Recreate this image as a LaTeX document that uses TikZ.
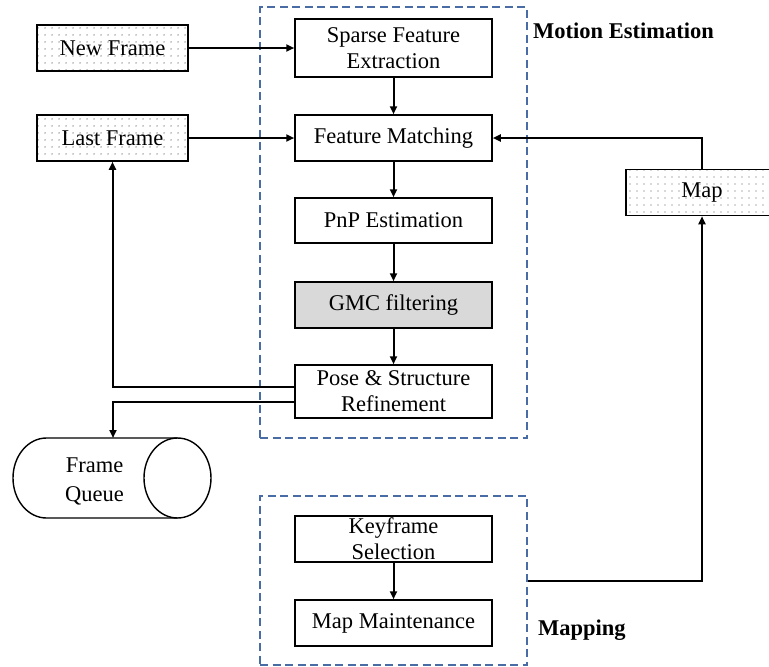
\documentclass[tikz,border=0pt]{standalone}
\usepackage{fontspec}
\setmainfont{Liberation Serif}
\usetikzlibrary{arrows.meta,patterns.meta}
\definecolor{dashblue}{RGB}{74,108,165}
\definecolor{gmcgray}{RGB}{217,217,217}
\tikzset{
  procbox/.style={draw=black, line width=1.5pt, minimum width=197pt, inner sep=0pt, align=center, font=\fontsize{22.5}{26}\selectfont},
  inbox/.style={draw=black, line width=1.5pt, minimum width=151pt, minimum height=46pt, inner sep=0pt, align=center,
     pattern={Dots[distance=6.5pt,radius=0.7pt]}, pattern color=black!65, font=\fontsize{22.5}{26}\selectfont},
  groupbox/.style={draw=dashblue, line width=1.2pt, dash pattern=on 8pt off 4.5pt, inner sep=0pt},
  arr/.style={line width=2pt, -{Triangle[length=8pt,width=7pt]}},
  grouplabel/.style={font=\fontsize{22.5}{26}\selectfont\bfseries, anchor=west, inner sep=0pt}
}
\begin{document}
\begin{tikzpicture}[x=1pt,y=-1pt]
\useasboundingbox (0,0) rectangle (769,667);
\clip (0,0) rectangle (769,667);
% group boxes
\node[groupbox, minimum width=267pt, minimum height=431pt] (motion) at (393.5,222.5) {};
\node[groupbox, minimum width=267pt, minimum height=169pt] (mapping) at (393.5,580.5) {};
\node[grouplabel] (motionlbl) at (533,31) {Motion Estimation};
\node[grouplabel] (mappinglbl) at (538,630) {Mapping};
% input boxes
\node[inbox] (newframe) at (112.5,48) {New Frame};
\node[inbox] (lastframe) at (112.5,138) {Last Frame};
\node[inbox, minimum width=152pt] (map) at (702,192.5) {Map};
% processing boxes
\node[procbox, minimum height=58pt] (sfe) at (393.5,48) {Sparse Feature\\Extraction};
\node[procbox, minimum height=46pt] (fm) at (393.5,138) {Feature Matching};
\node[procbox, minimum height=45pt] (pnp) at (393.5,220.5) {PnP Estimation};
\node[procbox, minimum height=46pt, fill=gmcgray] (gmc) at (393.5,305) {GMC filtering};
\node[procbox, minimum height=53pt] (pose) at (393.5,391.5) {Pose \& Structure\\Refinement};
\node[procbox, minimum height=46pt] (ks) at (393.5,539) {Keyframe\\Selection};
\node[procbox, minimum height=46pt] (mm) at (393.5,623) {Map Maintenance};
% frame queue cylinder
\draw[line width=1.4pt] (177.5,438) -- (46.5,438) arc[start angle=270, end angle=90, x radius=33.5, y radius=40] -- (177.5,518);
\draw[line width=1.4pt] (177.5,478) ellipse[x radius=33.5, y radius=40];
\node[font=\fontsize{22.5}{29}\selectfont, align=center, inner sep=0pt] (fqtext) at (94.5,481) {Frame\\Queue};
\coordinate (fqtop) at (113,438);
% connectors
\draw[arr] (newframe.east) -- (sfe.west);
\draw[arr] (lastframe.east) -- (fm.west);
\draw[arr] (sfe.south) -- (fm.north);
\draw[arr] (fm.south) -- (pnp.north);
\draw[arr] (pnp.south) -- (gmc.north);
\draw[arr] (gmc.south) -- (pose.north);
\draw[arr] (ks.south) -- (mm.north);
\draw[arr] ([yshift=4.5pt]pose.west) -| (lastframe.south);
\draw[arr] ([yshift=-10.5pt]pose.west) -| (fqtop);
\draw[arr] (map.north) |- (fm.east);
\draw[arr] (mapping.east) -| (map.south);
\end{tikzpicture}
\end{document}
